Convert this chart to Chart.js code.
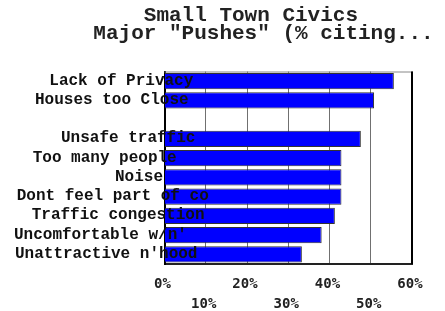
<!DOCTYPE html>
<html>
<head>
<meta charset="utf-8">
<script src="https://cdn.jsdelivr.net/npm/chart.js@4/dist/chart.umd.min.js"></script>
<style>
  html, body { margin: 0; padding: 0; background: #fff; }
  #wrap { width: 445px; height: 311px; position: relative; }
</style>
</head>
<body>
<div id="wrap"><canvas id="c"></canvas></div>
<script>
// ---- data ----
const titleLines = ['Small Town Civics  ', 'Major "Pushes" (% citing...'];
const categories = ['Lack of Privacy', 'Houses too Close', '', 'Unsafe traffic', 'Too many people', 'Noise', 'Dont feel part of co', 'Traffic congestion', "Uncomfortable w/n'", "Unattractive n'hood"];
const values = [55.6, 50.8, null, 47.6, 42.9, 42.9, 42.9, 41.3, 38.1, 33.3];
const xTicks = [0, 10, 20, 30, 40, 50, 60];

// ---- style: label start offsets relative to the plot's left edge ----
const LABEL_SHIFT = [-115.2, -129.5, 0, -103.5, -131.8, -49.5, -147.8, -132.8, -150.5, -149.5];

const labelPlugin = {
  id: 'labels',
  afterDatasetsDraw(chart) {
    const ctx = chart.ctx, area = chart.chartArea, ys = chart.scales.y;
    ctx.save();
    // frame
    ctx.lineWidth = 1;
    ctx.strokeStyle = '#888';
    ctx.beginPath(); ctx.moveTo(area.left, area.top + 0.5); ctx.lineTo(area.right, area.top + 0.5); ctx.stroke();
    ctx.lineWidth = 2;
    ctx.strokeStyle = '#000';
    ctx.beginPath(); ctx.moveTo(area.right, area.top); ctx.lineTo(area.right, area.bottom); ctx.stroke();
    // category labels
    ctx.font = 'bold 16px "Liberation Mono"';
    ctx.fillStyle = '#111';
    ctx.textAlign = 'left';
    ctx.textBaseline = 'middle';
    categories.forEach((c, i) => {
      if (!c) return;
      ctx.fillText(c, area.left + LABEL_SHIFT[i], ys.getPixelForValue(i) - 0.5);
    });
    ctx.restore();
  }
};

new Chart(document.getElementById('c'), {
  type: 'bar',
  data: {
    labels: categories,
    datasets: [{
      data: values,
      backgroundColor: '#0000ff',
      borderColor: '#333333',
      borderWidth: 1,
      barPercentage: 0.85,
      categoryPercentage: 1.0
    }]
  },
  options: {
    indexAxis: 'y',
    responsive: true,
    maintainAspectRatio: false,
    animation: false,
    layout: { padding: { left: 82, right: 0, top: 0, bottom: 0 } },
    plugins: {
      legend: { display: false },
      tooltip: { enabled: false },
      title: {
        display: true,
        text: titleLines,
        color: '#222',
        font: { family: '"Liberation Mono"', size: 21, weight: 'bold', lineHeight: '18px' },
        padding: { top: 6.5, bottom: 29 }
      }
    },
    scales: {
      x: {
        type: 'linear',
        position: 'bottom',
        min: xTicks[0],
        max: xTicks[xTicks.length - 1],
        afterBuildTicks(scale) { scale.ticks = xTicks.map(v => ({ value: v })); },
        afterFit(scale) { scale.height = 47; },
        grid: { color: '#707070', lineWidth: 1, drawTicks: false },
        border: { display: true, color: '#222', width: 2 },
        ticks: {
          padding: 10.2,
          labelOffset: -2,
          color: '#222',
          font: { family: '"DejaVu Sans Mono"', size: 14, weight: 'bold', lineHeight: '20px' },
          callback: (v) => (v % 20 === 0 ? v + '%' : ['', v + '%'])
        }
      },
      y: {
        type: 'category',
        position: 'left',
        afterFit(scale) { scale.width = 82.5; },
        grid: { display: false },
        border: { display: true, color: '#000', width: 2 },
        ticks: { display: false }
      },
      yRight: {
        type: 'linear',
        position: 'right',
        display: true,
        afterFit(scale) { scale.width = 33; },
        grid: { display: false },
        border: { display: false },
        ticks: { display: false }
      }
    }
  },
  plugins: [labelPlugin]
});
</script>
</body>
</html>
